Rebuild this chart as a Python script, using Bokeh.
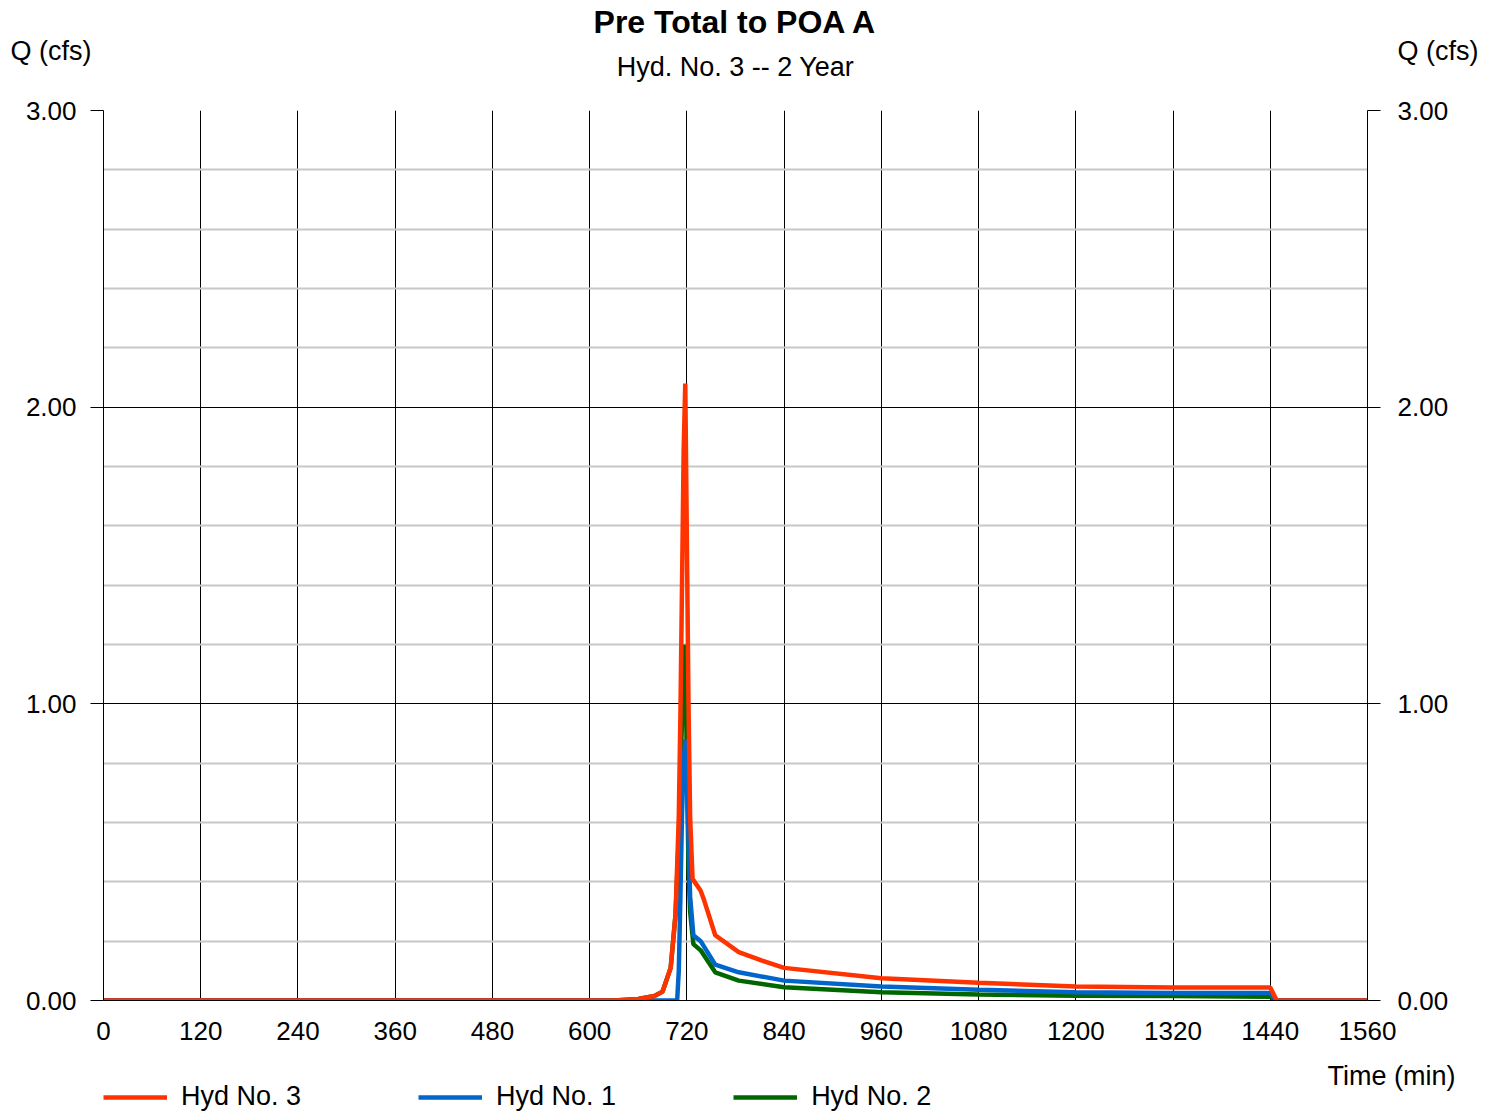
from bokeh.plotting import figure
from bokeh.models import (Range1d, LinearAxis, FixedTicker, Label, Legend, LegendItem,
                          NumeralTickFormatter)
from bokeh.layouts import column
from bokeh.embed import file_html
from bokeh.resources import INLINE

# ---- data ----
t3 = [0, 630, 660, 680, 690, 700, 706, 710, 712, 714, 716, 718, 720, 722, 724, 727, 737, 741, 755,
      784, 812, 840, 960, 1080, 1200, 1320, 1440, 1448, 1560]
q3 = [0, 0, 0.005, 0.015, 0.03, 0.11, 0.29, 0.62, 0.96, 1.40, 1.85, 2.08, 1.55, 1.00, 0.62, 0.41,
      0.37, 0.34, 0.22, 0.163, 0.135, 0.110, 0.075, 0.060, 0.047, 0.044, 0.044, 0, 0]

t1 = [0, 708, 710, 712, 714, 716, 718, 720, 722, 724, 728, 737, 755, 784, 840, 960, 1080, 1200,
      1320, 1440, 1448, 1560]
q1 = [0, 0, 0.10, 0.35, 0.63, 0.80, 0.88, 0.75, 0.55, 0.35, 0.22, 0.20, 0.121, 0.095, 0.067, 0.047,
      0.036, 0.028, 0.025, 0.025, 0, 0]

t2 = [0, 630, 660, 680, 690, 700, 706, 710, 712, 714, 716, 718, 720, 722, 724, 728, 737, 755, 784,
      840, 960, 1080, 1200, 1320, 1440, 1448, 1560]
q2 = [0, 0, 0.005, 0.015, 0.03, 0.11, 0.29, 0.55, 0.75, 0.95, 1.10, 1.20, 0.80, 0.45, 0.30, 0.19,
      0.169, 0.095, 0.067, 0.045, 0.028, 0.020, 0.016, 0.015, 0.013, 0, 0]

x_ticks = [0, 120, 240, 360, 480, 600, 720, 840, 960, 1080, 1200, 1320, 1440, 1560]
y_ticks = [0, 1, 2, 3]
y_minor = [0.2, 0.4, 0.6, 0.8, 1.2, 1.4, 1.6, 1.8, 2.2, 2.4, 2.6, 2.8]

series_names = ["Hyd No. 3", "Hyd No. 1", "Hyd No. 2"]
series_colors = ["#FF3300", "#0066CC", "#006600"]

title_text = "Pre Total to POA A"
subtitle_text = "Hyd. No. 3 -- 2 Year"
y_label = "Q (cfs)"
x_label = "Time (min)"

FONT = "Liberation Sans"
W = 1494
HEAD_H = 88
FOOT_H = 62
MAIN_H = 1112 - HEAD_H - FOOT_H


def no_align(f):
    if hasattr(f, "frame_align"):
        f.frame_align = False


def text_panel(h):
    f = figure(width=W, height=h, output_backend="svg", toolbar_location=None,
               x_range=Range1d(0, W), y_range=Range1d(h, 0),
               x_axis_type=None, y_axis_type=None,
               min_border=0, min_border_left=0, min_border_right=0,
               min_border_top=0, min_border_bottom=0)
    f.outline_line_color = None
    f.xgrid.visible = False
    f.ygrid.visible = False
    no_align(f)
    return f


def lab(f, x, y, text, align="left", size="27px", style="normal"):
    f.add_layout(Label(x=x, y=y, text=text, text_align=align, text_baseline="middle",
                       text_font=FONT, text_font_size=size, text_font_style=style,
                       text_color="black"))


# ---- header ----
head = text_panel(HEAD_H)
lab(head, 735, 21, title_text, align="center", size="32px", style="bold")
lab(head, 735, 66, subtitle_text, align="center")
lab(head, 10, 50, y_label)
lab(head, 1397, 50, y_label)

# ---- main chart ----
p = figure(width=W, height=MAIN_H, output_backend="svg", toolbar_location=None,
           x_range=Range1d(0, 1560), y_range=Range1d(0, 3),
           min_border_left=103, min_border_right=127,
           min_border_top=110 - HEAD_H, min_border_bottom=MAIN_H - (1000 - HEAD_H))
no_align(p)
p.outline_line_color = None
p.background_fill_color = "white"

p.xgrid.ticker = FixedTicker(ticks=x_ticks)
p.xgrid.grid_line_color = "black"
p.xgrid.grid_line_width = 1
p.ygrid.ticker = FixedTicker(ticks=y_ticks, minor_ticks=y_minor)
p.ygrid.grid_line_color = "black"
p.ygrid.grid_line_width = 1
p.ygrid.minor_grid_line_color = "#c8c8c8"
p.ygrid.minor_grid_line_width = 2

p.xaxis.ticker = FixedTicker(ticks=x_ticks)
p.xaxis.major_tick_out = 0
p.xaxis.major_tick_in = 0
p.xaxis.minor_tick_line_color = None
p.xaxis.axis_line_color = "black"
p.xaxis.major_label_standoff = 21
p.xaxis.major_label_text_font = FONT
p.xaxis.major_label_text_font_size = "26px"
p.xaxis.major_label_text_color = "black"

p.yaxis.ticker = FixedTicker(ticks=y_ticks)
p.yaxis.formatter = NumeralTickFormatter(format="0.00")
p.yaxis.major_tick_out = 13
p.yaxis.major_tick_in = 0
p.yaxis.minor_tick_line_color = None
p.yaxis.major_label_standoff = 14
p.yaxis.major_label_text_font = FONT
p.yaxis.major_label_text_font_size = "26px"
p.yaxis.major_label_text_color = "black"

p.extra_y_ranges = {"r": Range1d(0, 3)}
ra = LinearAxis(y_range_name="r", ticker=FixedTicker(ticks=y_ticks),
                formatter=NumeralTickFormatter(format="0.00"))
ra.major_tick_out = 13
ra.major_tick_in = 0
ra.minor_tick_line_color = None
ra.major_label_standoff = 17
ra.major_label_text_font = FONT
ra.major_label_text_font_size = "26px"
ra.major_label_text_color = "black"
p.add_layout(ra, "right")

p.line(t2, q2, line_color=series_colors[2], line_width=4.5)
p.line(t1, q1, line_color=series_colors[1], line_width=4.5)
p.line(t3, q3, line_color=series_colors[0], line_width=4.5)

# ---- footer (axis title + legend) ----
foot = text_panel(FOOT_H)
lab(foot, 1455, 1075 - (HEAD_H + MAIN_H), x_label, align="right")
nan = float("nan")
lr = [foot.line([nan], [nan], line_color=c, line_width=4.5) for c in series_colors]
legend = Legend(items=[LegendItem(label=n, renderers=[r]) for n, r in zip(series_names, lr)],
                orientation="horizontal", location=(103, 0),
                glyph_width=64, glyph_height=24, label_height=24, label_standoff=14,
                spacing=117, padding=0, margin=0,
                border_line_alpha=0, background_fill_alpha=0,
                label_text_font=FONT, label_text_font_size="27px", label_text_color="black")
foot.add_layout(legend, "center")

layout = column(head, p, foot, spacing=0)
open("out.html", "w").write(file_html(layout, INLINE))
